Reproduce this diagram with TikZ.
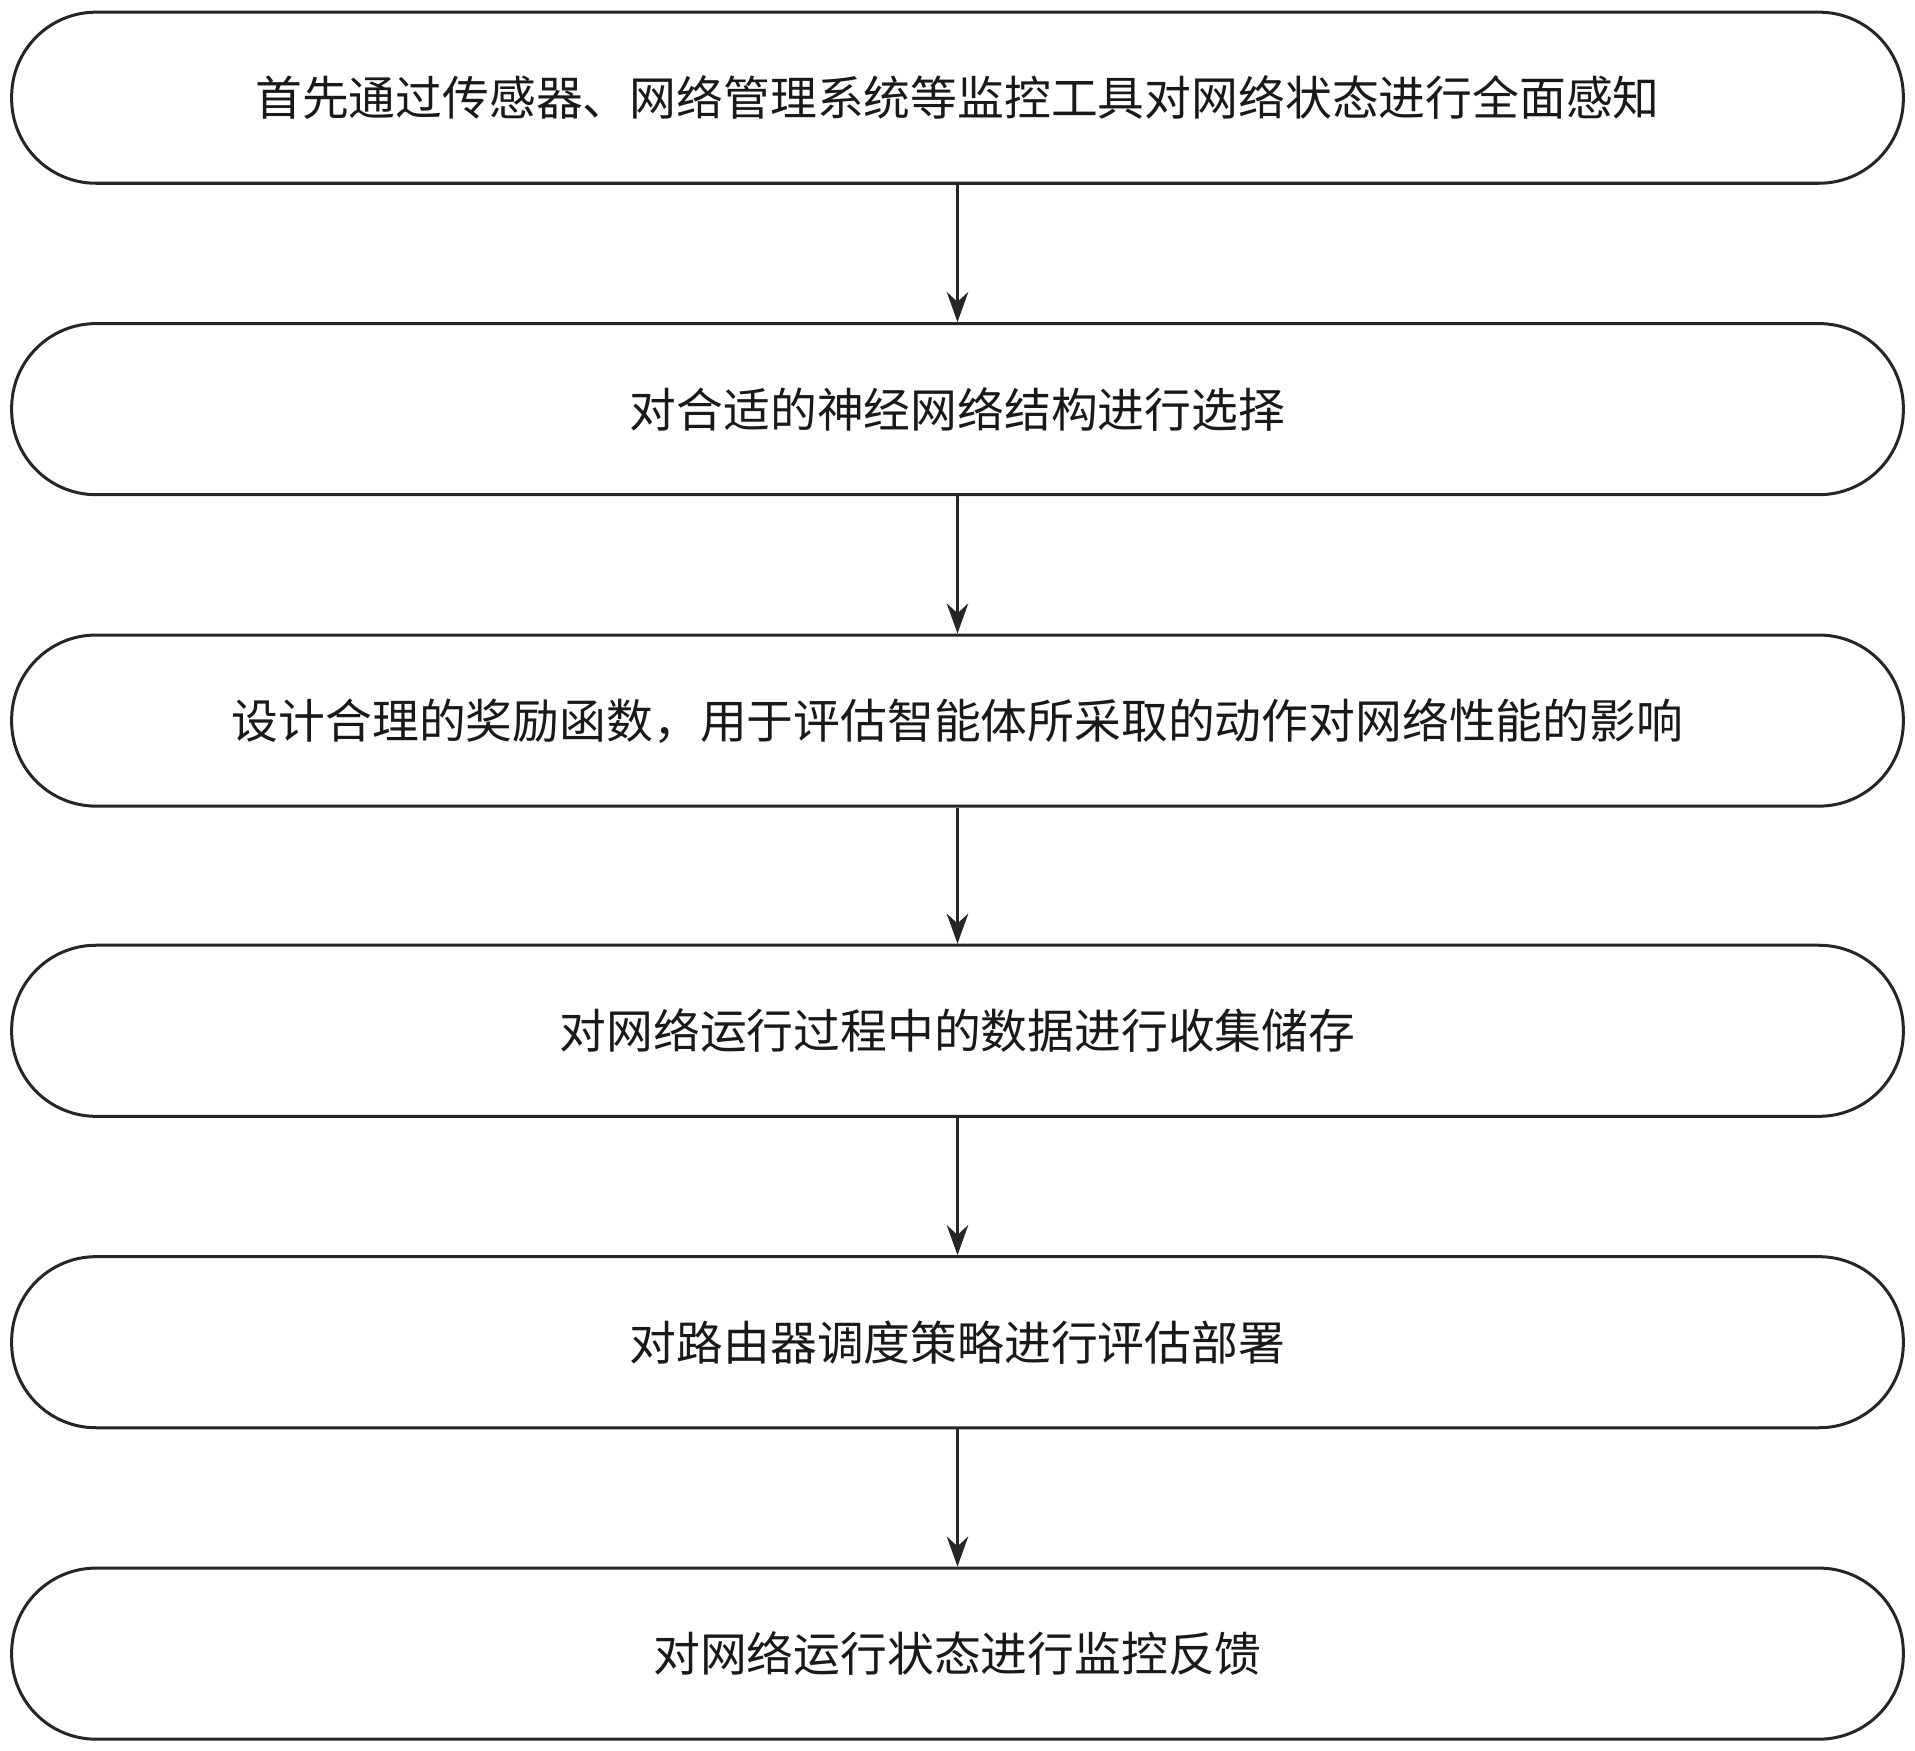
\documentclass[tikz,border=0pt]{standalone}
\usepackage{fontspec}
\newfontfamily\cjk{Noto Sans CJK SC}
\usetikzlibrary{arrows.meta}
\begin{document}
\begin{tikzpicture}[x=0.01cm,y=-0.01cm,
  stepbox/.style={draw=black!85,line width=0.7pt,rounded corners=0.69cm,minimum width=15.48cm,minimum height=1.4cm,font=\cjk\fontsize{10.9}{13}\selectfont,text=black!90},
  arr/.style={-{Stealth[length=7pt,width=5pt]},line width=0.7pt,draw=black!85}]
\useasboundingbox (0,0) rectangle (1568,1433);
\node[stepbox] (b1) at (784,80) {首先通过传感器、网络管理系统等监控工具对网络状态进行全面感知};
\node[stepbox] (b2) at (784,335) {对合适的神经网络结构进行选择};
\node[stepbox] (b3) at (784,590) {设计合理的奖励函数，用于评估智能体所采取的动作对网络性能的影响};
\node[stepbox] (b4) at (784,844) {对网络运行过程中的数据进行收集储存};
\node[stepbox] (b5) at (784,1099) {对路由器调度策略进行评估部署};
\node[stepbox] (b6) at (784,1354) {对网络运行状态进行监控反馈};
\draw[arr] (b1) -- (b2);
\draw[arr] (b2) -- (b3);
\draw[arr] (b3) -- (b4);
\draw[arr] (b4) -- (b5);
\draw[arr] (b5) -- (b6);
\end{tikzpicture}
\end{document}
